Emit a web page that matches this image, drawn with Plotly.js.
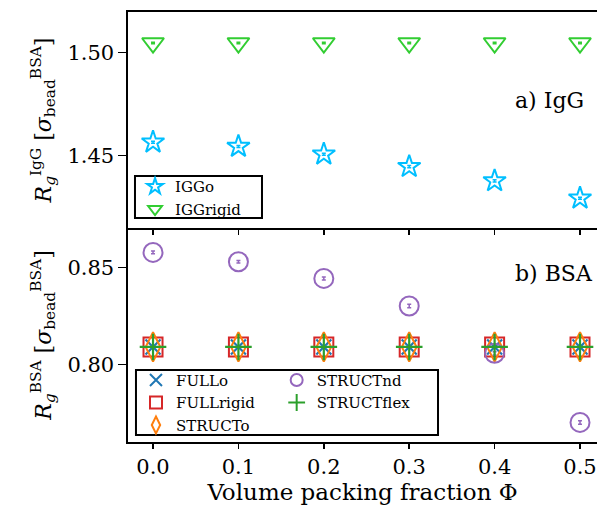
<!DOCTYPE html>
<html>
<head>
<meta charset="utf-8">
<script src="https://cdn.plot.ly/plotly-3.0.1.min.js"></script>
<style>html,body{margin:0;padding:0;background:#fff;}#chart{width:597px;height:507px;}</style>
</head>
<body>
<div id="chart"></div>
<script>
// ---- data ----
const phi = [0.0, 0.1, 0.2, 0.3, 0.4, 0.5];
const iggo = [1.4565, 1.4544, 1.4507, 1.4447, 1.4378, 1.4294];
const iggoErr = [0.0005, 0.0005, 0.0005, 0.0005, 0.0005, 0.0005];
const iggrigid = [1.5045, 1.5045, 1.5045, 1.5045, 1.5045, 1.5045];
const iggrigidErr = [0.0004, 0.0004, 0.0004, 0.0004, 0.0004, 0.0004];
const fullo = [0.809, 0.809, 0.809, 0.809, 0.809, 0.809];
const fullrigid = [0.809, 0.809, 0.809, 0.809, 0.809, 0.809];
const structo = [0.809, 0.809, 0.809, 0.809, 0.809, 0.809];
const structnd = [0.8577, 0.8529, 0.8443, 0.8301, 0.8057, 0.7701];
const structndErr = [0.0007, 0.0007, 0.0008, 0.0009, 0.0008, 0.0009];
const structflex = [0.809, 0.809, 0.809, 0.809, 0.809, 0.809];
const xTicks = [0.0, 0.1, 0.2, 0.3, 0.4, 0.5];
const xTickText = ['0.0', '0.1', '0.2', '0.3', '0.4', '0.5'];
const yTopTicks = [1.45, 1.50];
const yTopText = ['1.45', '1.50'];
const yBotTicks = [0.80, 0.85];
const yBotText = ['0.80', '0.85'];

const FONT = 'DejaVu Serif';

function tr(name, y, sym, color, size, yaxis, legend, rank, err, lw) {
  const t = {
    x: phi, y: y, name: name, type: 'scatter', mode: 'markers',
    xaxis: yaxis === 'y' ? 'x' : 'x2', yaxis: yaxis,
    legend: legend, legendrank: rank,
    marker: {symbol: sym, size: size, color: color, line: {color: color, width: lw || 2}},
    cliponaxis: false
  };
  if (err) {
    t.error_y = {type: 'data', array: err, visible: true, color: color, thickness: 1.5, width: 2};
  }
  return t;
}

const data = [
  tr('IGGo', iggo, 'star-open', '#00bfff', 17, 'y2', 'legend', 1, iggoErr),
  tr('IGGrigid', iggrigid, 'triangle-down-open', '#32cd32', 19, 'y2', 'legend', 2, iggrigidErr),
  tr('FULLo', fullo, 'x-thin-open', '#1f77b4', 15, 'y', 'legend2', 1, null, 2.2),
  tr('FULLrigid', fullrigid, 'square-open', '#d62728', 19, 'y', 'legend2', 2),
  tr('STRUCTo', structo, 'diamond-tall-open', '#ff7f0e', 21, 'y', 'legend2', 3),
  tr('STRUCTnd', structnd, 'circle-open', '#9467bd', 19, 'y', 'legend3', 1, structndErr),
  tr('STRUCTflex', structflex, 'cross-thin-open', '#2ca02c', 19, 'y', 'legend3', 2, null, 2.2)
];

const axCommon = {
  showline: true, linecolor: '#000', linewidth: 1.6,
  ticks: 'outside', tickcolor: '#000', tickwidth: 1.5,
  showgrid: false, zeroline: false,
  tickfont: {family: FONT, size: 21, color: '#000'}
};

const legCommon = {
  bgcolor: 'rgba(0,0,0,0)', borderwidth: 0,
  font: {family: FONT, size: 15, color: '#000'},
  xanchor: 'left', yanchor: 'top', tracegroupgap: 0, itemwidth: 30,
  itemsizing: 'constant'
};

const layout = {
  width: 597, height: 507,
  margin: {l: 128, r: 0, t: 12, b: 65},
  paper_bgcolor: '#fff', plot_bgcolor: '#fff',
  showlegend: true,
  xaxis: Object.assign({}, axCommon, {
    anchor: 'y', range: [-0.0293, 0.5199], tickvals: xTicks, ticktext: xTickText,
    ticklen: 5, mirror: false,
    title: {text: 'Volume packing fraction Φ', font: {family: FONT, size: 23, color: '#000'}, standoff: 4}
  }),
  xaxis2: Object.assign({}, axCommon, {
    anchor: 'y2', range: [-0.0293, 0.5199], tickvals: xTicks, ticktext: xTickText,
    ticklen: 5, mirror: true, showticklabels: false, matches: 'x'
  }),
  yaxis: Object.assign({}, axCommon, {
    domain: [0, 0.4977], range: [0.760, 0.8703], tickvals: yBotTicks, ticktext: yBotText,
    ticklen: 8,
    title: {text: '<i>R</i><sub><i>g</i></sub><sup>BSA</sup> [<i>σ</i><sub>bead</sub><sup>BSA</sup>]', font: {family: FONT, size: 22, color: '#000'}, standoff: 10}
  }),
  yaxis2: Object.assign({}, axCommon, {
    domain: [0.4977, 1], range: [1.415, 1.5195], tickvals: yTopTicks, ticktext: yTopText,
    ticklen: 8,
    title: {text: '<i>R</i><sub><i>g</i></sub><sup>IgG</sup> [<i>σ</i><sub>bead</sub><sup>BSA</sup>]', font: {family: FONT, size: 22, color: '#000'}, standoff: 10}
  }),
  legend: Object.assign({}, legCommon, {x: 0.015, y: 0.632}),
  legend2: Object.assign({}, legCommon, {x: 0.017, y: 0.182}),
  legend3: Object.assign({}, legCommon, {x: 0.317, y: 0.182}),
  shapes: [
    {
      type: 'rect', xref: 'paper', yref: 'paper', layer: 'above',
      x0: 0.0149, x1: 0.2857, y0: 0.5209, y1: 0.6186,
      line: {color: '#000', width: 2}, fillcolor: '#fff'
    },
    {
      type: 'rect', xref: 'paper', yref: 'paper', layer: 'above',
      x0: 0.017, x1: 0.661, y0: 0.0163, y1: 0.1674,
      line: {color: '#000', width: 2}, fillcolor: '#fff'
    }
  ],
  annotations: [
    {text: 'a) IgG', xref: 'paper', yref: 'paper', x: 0.821, y: 0.795, xanchor: 'left', yanchor: 'middle', showarrow: false, font: {family: FONT, size: 22, color: '#000'}},
    {text: 'b) BSA', xref: 'paper', yref: 'paper', x: 0.821, y: 0.393, xanchor: 'left', yanchor: 'middle', showarrow: false, font: {family: FONT, size: 22, color: '#000'}}
  ]
};

Plotly.newPlot('chart', data, layout, {displayModeBar: false, staticPlot: true});
</script>
</body>
</html>
